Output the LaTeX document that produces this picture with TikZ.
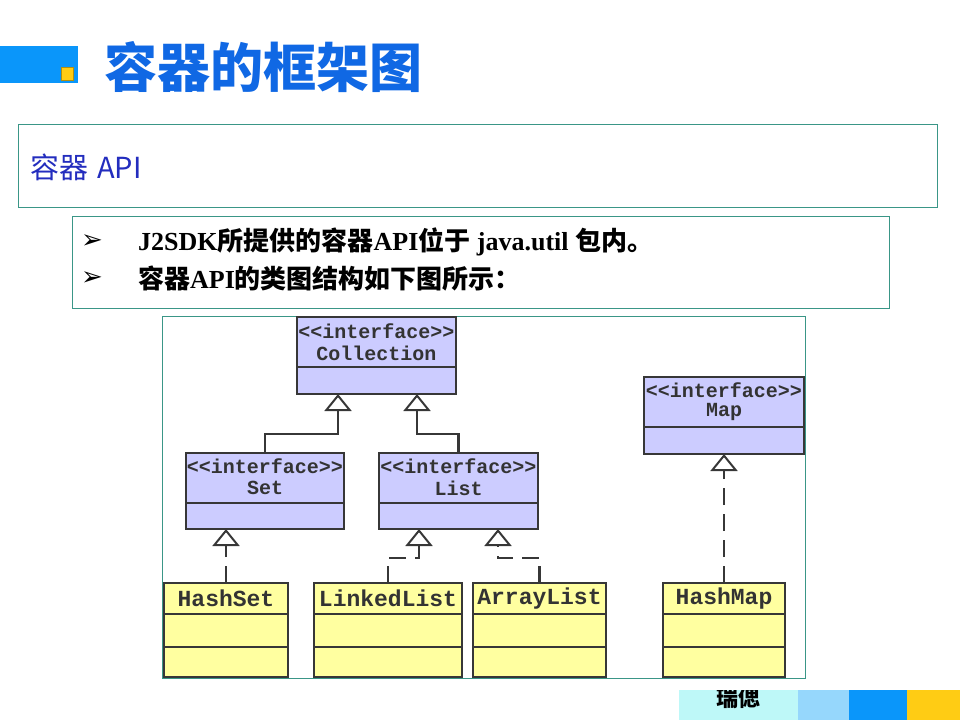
\documentclass[tikz,border=0pt]{standalone}
\usepackage{fontspec}
\setmainfont{Liberation Serif}
\newfontfamily\cjk{Noto Sans CJK SC}
\newfontfamily\umlfont{Liberation Mono}
\newfontfamily\symfont{DejaVu Sans}
\usetikzlibrary{arrows.meta,calc}

\definecolor{titleblue}{RGB}{16,104,228}
\definecolor{barblue}{RGB}{10,150,250}
\definecolor{baryellow}{RGB}{255,204,20}
\definecolor{panelline}{RGB}{58,150,135}
\definecolor{apiblue}{RGB}{35,45,190}
\definecolor{ifill}{RGB}{204,204,255}
\definecolor{cfill}{RGB}{255,255,160}
\definecolor{umlline}{RGB}{55,55,55}
\definecolor{barcyan}{RGB}{190,248,248}
\definecolor{barlight}{RGB}{150,215,252}

\tikzset{
  panel/.style={draw=panelline, line width=1pt, anchor=north west, inner sep=0pt, outer sep=0pt},
  umlbox/.style={draw=umlline, line width=2pt, anchor=north west, inner sep=0pt, outer sep=0pt},
  iface/.style={umlbox, fill=ifill},
  klass/.style={umlbox, fill=cfill},
  divider/.style={draw=umlline, line width=2pt},
  ifacetext/.style={font=\umlfont\bfseries\fontsize{20}{20}\selectfont, text=black!80, inner sep=0pt},
  classtext/.style={font=\umlfont\bfseries\fontsize{23}{23}\selectfont, text=black!80, inner sep=0pt},
  gen/.style={draw=umlline, line width=2.8pt,
    -{Triangle[open, length=17pt, width=27pt, line width=2pt]}},
  realize/.style={gen, dash pattern=on 17pt off 9pt},
  bullet/.style={font=\symfont\fontsize{26}{26}\selectfont, inner sep=0pt},
  bodytext/.style={font=\bfseries\fontsize{26}{26}\selectfont, anchor=west, inner sep=0pt},
}

\begin{document}
\begin{tikzpicture}[x=1pt,y=-1pt]
\useasboundingbox (0,0) rectangle (960,720);

% heading with the coloured marker
\fill[barblue] (0,46) rectangle (78,83);
\fill[baryellow] (61,67) rectangle (73,80);
\draw[baryellow!70!black, line width=0.6pt] (61,67) rectangle (73,80);
\node[anchor=west, inner sep=0pt, text=titleblue,
      font=\cjk\bfseries\fontsize{53}{53}\selectfont] (title) at (104,67) {容器的框架图};

% section panel
\node[panel, minimum width=919pt, minimum height=83pt] (apibox) at (18,124) {};
\node[anchor=west, inner sep=0pt, text=apiblue,
      font=\cjk\fontsize{29}{29}\selectfont] (apititle) at (30,167) {容器\hspace{9pt}API};

% bullet panel
\node[panel, minimum width=817pt, minimum height=92pt] (notes) at (72,216) {};
\node[bullet] (b1) at (92,242) {➢};
\node[bullet] (b2) at (92,279) {➢};
\node[bodytext] (line1) at (138,242)
  {J2SDK{\cjk 所提供的容器}API{\cjk 位于} java.util {\cjk 包内。}};
\node[bodytext] (line2) at (138,279)
  {{\cjk 容器}API{\cjk 的类图结构如下图所示：}};

% class diagram frame
\node[panel, minimum width=643pt, minimum height=362pt] (frame) at (162,316) {};

% interfaces
\node[iface, minimum width=159pt, minimum height=77pt] (coll) at (297,317) {};
\node[iface, minimum width=158pt, minimum height=76pt] (set)  at (186,453) {};
\node[iface, minimum width=159pt, minimum height=76pt] (list) at (379,453) {};
\node[iface, minimum width=160pt, minimum height=77pt] (map)  at (644,377) {};
\foreach \b in {coll,set,list,map}
  \draw[divider] ([yshift=-50pt]\b.north west) -- ([yshift=-50pt]\b.north east);

\node[ifacetext] (collst) at ([yshift=-14pt]coll.north) {<<interface>>};
\node[ifacetext] (collnm) at ([yshift=-36pt]coll.north) {Collection};
\node[ifacetext] (setst)  at ([yshift=-13pt]set.north)  {<<interface>>};
\node[ifacetext] (setnm)  at ([yshift=-35pt]set.north)  {Set};
\node[ifacetext] (listst) at ([yshift=-13pt]list.north) {<<interface>>};
\node[ifacetext] (listnm) at ([yshift=-35pt]list.north) {List};
\node[ifacetext] (mapst)  at ([yshift=-13pt]map.north)  {<<interface>>};
\node[ifacetext] (mapnm)  at ([yshift=-35pt]map.north)  {Map};

% implementing classes
\node[klass, minimum width=124pt, minimum height=94pt] (hset)  at (164,583) {};
\node[klass, minimum width=148pt, minimum height=94pt] (llist) at (314,583) {};
\node[klass, minimum width=133pt, minimum height=94pt] (alist) at (473,583) {};
\node[klass, minimum width=122pt, minimum height=94pt] (hmap)  at (663,583) {};
\foreach \b in {hset,llist,alist,hmap}{
  \draw[divider] ([yshift=-31pt]\b.north west) -- ([yshift=-31pt]\b.north east);
  \draw[divider] ([yshift=-64pt]\b.north west) -- ([yshift=-64pt]\b.north east);
}
\node[classtext] (hsetnm)  at ([yshift=-15.5pt]hset.north)  {HashSet};
\node[classtext] (llistnm) at ([yshift=-15.5pt]llist.north) {LinkedList};
\node[classtext] (alistnm) at ([yshift=-15.5pt]alist.north) {ArrayList};
\node[classtext] (hmapnm)  at ([yshift=-15.5pt]hmap.north)  {HashMap};

% generalization
\draw[gen] (set.north) -- ++(0,-19) -| ([xshift=-38.5pt]coll.south);
\draw[gen] (list.north) -- ++(0,-19) -| ([xshift=40.5pt]coll.south);

% realization
\draw[realize] (hset.north) -- (hset.north |- set.south);
\draw[realize] (llist.north) -- ++(0,-25) -| ([xshift=-39.5pt]list.south);
\draw[realize] (alist.north) -- ++(0,-25) -| ([xshift=39.5pt]list.south);
\draw[realize] (hmap.north) -- (map.south);

% footer strip
\fill[barcyan]   (679,690) rectangle (798,720);
\fill[barlight]  (798,690) rectangle (849,720);
\fill[barblue]   (849,690) rectangle (907,720);
\fill[baryellow] (907,690) rectangle (960,720);
\begin{scope}
  \clip (679,690) rectangle (798,720);
  \node[inner sep=0pt, font=\cjk\bfseries\fontsize{22}{22}\selectfont] (footer) at (738,698) {瑞偲};
\end{scope}
\end{tikzpicture}
\end{document}
